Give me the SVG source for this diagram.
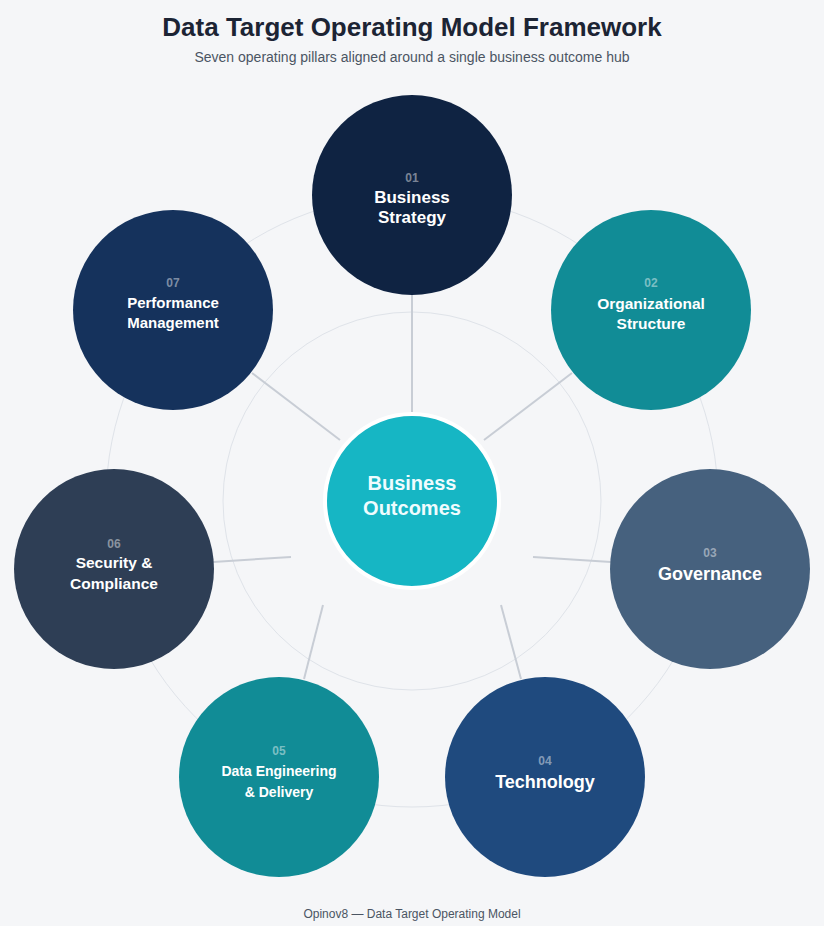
<svg xmlns="http://www.w3.org/2000/svg" width="824" height="926" viewBox="0 0 824 926">
<style>
.bg{fill:#f5f6f8}
.title{font-family:"Liberation Sans",Arial,sans-serif;font-weight:bold;font-size:26px;fill:#1c2434;text-anchor:middle}
.sub{font-family:"Liberation Sans",Arial,sans-serif;font-size:14px;fill:#4b5563;text-anchor:middle}
.foot{font-family:"Liberation Sans",Arial,sans-serif;font-size:12px;fill:#4b5563;text-anchor:middle}
.ring{fill:none;stroke:#dfe3e9;stroke-width:1}
.conn line{stroke:#c8cdd5;stroke-width:2}
.num{font-family:"Liberation Sans",Arial,sans-serif;font-weight:bold;font-size:12px;fill:#ffffff;fill-opacity:0.45;text-anchor:middle}
.lbl{font-family:"Liberation Sans",Arial,sans-serif;font-weight:bold;fill:#ffffff;text-anchor:middle}
.hubt{font-family:"Liberation Sans",Arial,sans-serif;font-weight:bold;font-size:20px;fill:#effcfe;text-anchor:middle}
</style>
<rect class="bg" x="0" y="0" width="824" height="926"/>
<text class="title" x="412" y="36">Data Target Operating Model Framework</text>
<text class="sub" x="412" y="62">Seven operating pillars aligned around a single business outcome hub</text>
<circle class="ring" cx="412" cy="501" r="306"/>
<circle class="ring" cx="412" cy="501" r="189"/>
<g id="connectors" class="conn">
<line x1="412" y1="295" x2="412" y2="413"/>
<line x1="572" y1="373" x2="484" y2="440"/>
<line x1="611" y1="562" x2="533" y2="557"/>
<line x1="521" y1="679" x2="501" y2="605"/>
<line x1="304" y1="679" x2="323" y2="605"/>
<line x1="213" y1="562" x2="291" y2="557"/>
<line x1="252" y1="373" x2="340" y2="440"/>
</g>
<g id="hub">
<circle cx="412" cy="501" r="87" fill="#16b6c4" stroke="#ffffff" stroke-width="4"/>
<text class="hubt" x="412" y="490">Business</text>
<text class="hubt" x="412" y="515">Outcomes</text>
</g>
<g id="p1">
<circle cx="412" cy="195" r="100" fill="#0f2342"/>
<text class="num" x="412" y="182">01</text>
<text class="lbl" font-size="17" x="412" y="203">Business</text>
<text class="lbl" font-size="17" x="412" y="223">Strategy</text>
</g>
<g id="p2">
<circle cx="651" cy="310" r="100" fill="#118c96"/>
<text class="num" x="651" y="287">02</text>
<text class="lbl" font-size="15.5" x="651" y="309">Organizational</text>
<text class="lbl" font-size="15.5" x="651" y="329">Structure</text>
</g>
<g id="p3">
<circle cx="710" cy="569" r="100" fill="#46617e"/>
<text class="num" x="710" y="557">03</text>
<text class="lbl" font-size="18" x="710" y="580">Governance</text>
</g>
<g id="p4">
<circle cx="545" cy="777" r="100" fill="#1f4a7e"/>
<text class="num" x="545" y="765">04</text>
<text class="lbl" font-size="18" x="545" y="788">Technology</text>
</g>
<g id="p5">
<circle cx="279" cy="777" r="100" fill="#118c96"/>
<text class="num" x="279" y="755">05</text>
<text class="lbl" font-size="14" x="279" y="776">Data Engineering</text>
<text class="lbl" font-size="14" x="279" y="797">&amp; Delivery</text>
</g>
<g id="p6">
<circle cx="114" cy="569" r="100" fill="#2e3e55"/>
<text class="num" x="114" y="548">06</text>
<text class="lbl" font-size="15.5" x="114" y="568">Security &amp;</text>
<text class="lbl" font-size="15.5" x="114" y="589">Compliance</text>
</g>
<g id="p7">
<circle cx="173" cy="310" r="100" fill="#15325c"/>
<text class="num" x="173" y="287">07</text>
<text class="lbl" font-size="15" x="173" y="308">Performance</text>
<text class="lbl" font-size="15" x="173" y="328">Management</text>
</g>
<text class="foot" x="412" y="918">Opinov8 — Data Target Operating Model</text>
</svg>
